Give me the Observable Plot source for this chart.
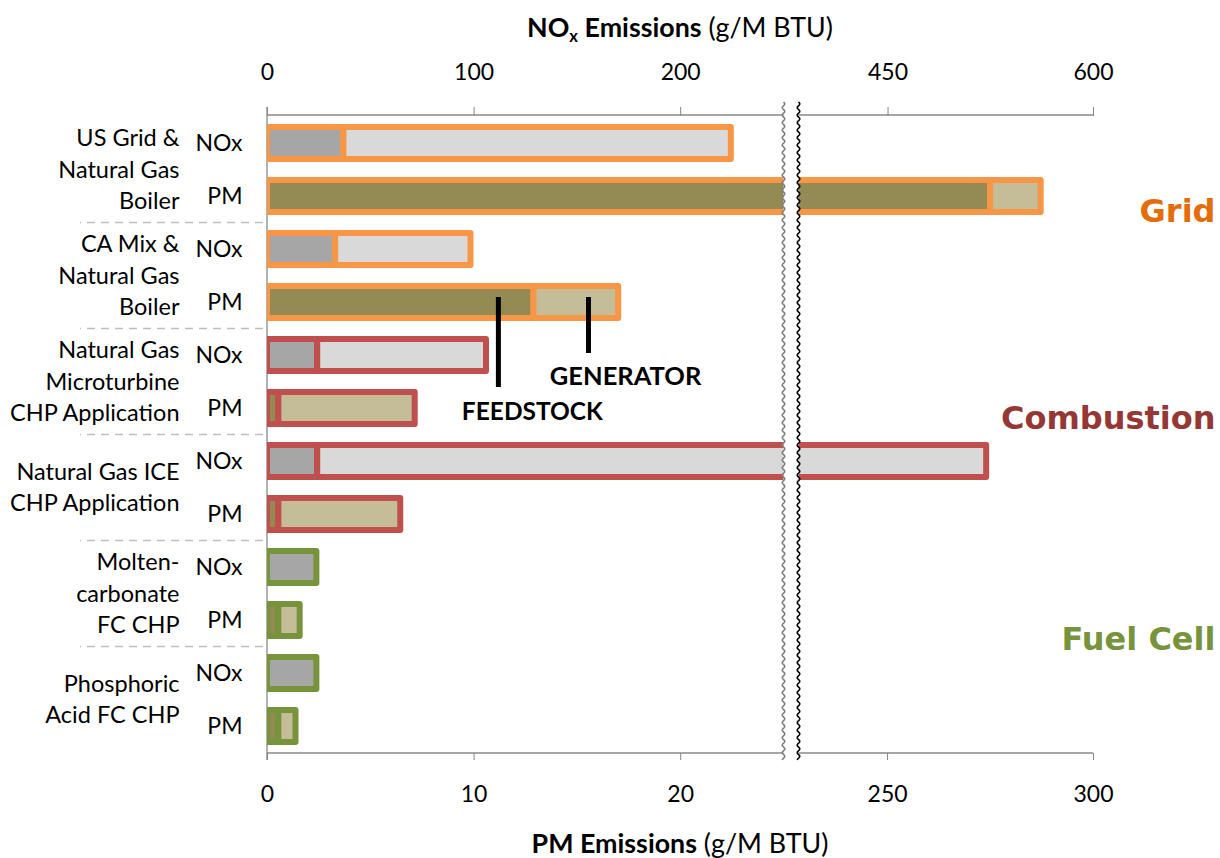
<!DOCTYPE html>
<html>
<head>
<meta charset="utf-8">
<script src="https://cdn.jsdelivr.net/npm/d3@7"></script>
<script src="https://cdn.jsdelivr.net/npm/@observablehq/plot@0.6"></script>
<style>
  body { margin: 0; background: #fff; }
  #wrap { position: relative; width: 1220px; height: 858px; font-family: Lato, sans-serif; color: #000; }
  #wrap svg { position: absolute; left: 0; top: 0; }
  .axtitle { position: absolute; left: 380px; width: 600px; text-align: center; font-size: 26.8px; line-height: 30px; }
  .axtitle sub { font-size: 0.62em; vertical-align: -0.3em; line-height: 0; }
  g[aria-label="x-axis tick"] { stroke: #868686; }
  g[aria-label="x-axis"] .tick line { stroke: #868686; }
</style>
</head>
<body>
<div id="wrap">
  <div class="axtitle" style="top:12px"><b>NO<sub>x</sub> Emissions</b> (g/M BTU)</div>
  <div class="axtitle" style="top:828px"><b>PM Emissions</b> (g/M BTU)</div>
</div>
<script>
// ---------------- data ----------------
const categories = [
  "US Grid & Natural Gas Boiler",
  "CA Mix & Natural Gas Boiler",
  "Natural Gas Microturbine CHP Application",
  "Natural Gas ICE CHP Application",
  "Molten-carbonate FC CHP",
  "Phosphoric Acid FC CHP"
];
const categoryLines = [
  "US Grid &\nNatural Gas\nBoiler",
  "CA Mix &\nNatural Gas\nBoiler",
  "Natural Gas\nMicroturbine\nCHP Application",
  "Natural Gas ICE\nCHP Application",
  "Molten-\ncarbonate\nFC CHP",
  "Phosphoric\nAcid FC CHP"
];
const groups = ["Grid", "Grid", "Combustion", "Combustion", "Fuel Cell", "Fuel Cell"];
const metrics = ["NOx", "PM"];
const parts = ["FEEDSTOCK", "GENERATOR"];

// g/M BTU
const noxFeedstock = [37, 33, 24.3, 24.3, 23.9, 23.9];
const noxGenerator = [187.5, 65.5, 81.7, 497.7, 0, 0];
const pmFeedstock  = [275, 12.9, 0.55, 0.55, 0.55, 0.55];
const pmGenerator  = [12.3, 4.1, 6.6, 5.9, 1.03, 0.83];

// axis ticks and axis breaks (broken axis)
const noxTicks = [0, 100, 200, 450, 600];
const pmTicks  = [0, 10, 20, 250, 300];
const noxBreak = [250, 385];
const pmBreak  = [25, 228.5];

// annotation anchors in PM units
const annotations = [
  {label: "FEEDSTOCK", pointAt: 11.2, textAt: 12.82},
  {label: "GENERATOR", pointAt: 15.56, textAt: 17.33}
];

// ---------------- styles / layout ----------------
const groupStroke = {"Grid": "#f79646", "Combustion": "#c0504d", "Fuel Cell": "#77933c"};
const groupText   = {"Grid": "#e46c0a", "Combustion": "#953735", "Fuel Cell": "#77933c"};
const noxFill = ["#a6a6a6", "#d9d9d9"];
const pmFill  = ["#948a54", "#c4bd97"];
const groupLabelDy = [15, 10, 19];

const W = 1220, H = 858, MT = 115, MB = 105, ML = 267, MR = 127;
const BX = [783.5, 798.5];
const xRange = [ML, BX[0], BX[1], W - MR];
const FONT = "Lato, sans-serif";

// ---------------- derived tables ----------------
const rowKey = (c, m) => c + "|" + m;
const rows = categories.flatMap(c => metrics.map(m => rowKey(c, m)));
const noxData = categories.map((c, i) => ({row: rowKey(c, "NOx"), group: groups[i], feed: noxFeedstock[i], total: noxFeedstock[i] + noxGenerator[i]}));
const pmData  = categories.map((c, i) => ({row: rowKey(c, "PM"),  group: groups[i], feed: pmFeedstock[i],  total: pmFeedstock[i] + pmGenerator[i]}));
const rowLabels = categories.flatMap(c => metrics.map(m => ({row: rowKey(c, m), text: m})));
const catLabels = categories.map((c, i) => ({row: rowKey(c, "NOx"), text: categoryLines[i]}));
const groupNames = [...new Set(groups)];
const groupLabels = groupNames.map(g => ({text: g, row: rowKey(categories[groups.indexOf(g)], "PM"), color: groupText[g]}));

// ---------------- decorations ----------------
function deco1(index, scales, values, dims) {
  const {y} = scales;
  const bw = y.bandwidth();
  const g = d3.create("svg:g");
  const axisColor = "#898989";
  const top = dims.marginTop, bottom = dims.height - dims.marginBottom;
  const left = dims.marginLeft, right = dims.width - dims.marginRight;
  g.append("line").attr("x1", left).attr("x2", left).attr("y1", top - 8).attr("y2", bottom + 7)
    .attr("stroke", axisColor).attr("stroke-width", 1.3);
  g.append("line").attr("x1", left).attr("x2", right).attr("y1", top).attr("y2", top)
    .attr("stroke", axisColor).attr("stroke-width", 1.3);
  g.append("line").attr("x1", left).attr("x2", right).attr("y1", bottom).attr("y2", bottom)
    .attr("stroke", axisColor).attr("stroke-width", 1.3);
  for (let i = 1; i < categories.length; i++) {
    const yb = (y(rowKey(categories[i - 1], "PM")) + bw + y(rowKey(categories[i], "NOx"))) / 2;
    g.append("line").attr("x1", left - 4).attr("x2", 80).attr("y1", yb).attr("y2", yb)
      .attr("stroke", "#bfbfbf").attr("stroke-width", 1.6).attr("stroke-dasharray", "8,6");
  }
  return g.node();
}

function wavy(x0, y0, y1) {
  const p = d3.path();
  p.moveTo(x0, y0);
  for (let yy = y0; yy <= y1; yy += 1) p.lineTo(x0 + 1.3 * Math.sin(2 * Math.PI * (yy - y0) / 7.5), yy);
  return p.toString();
}

function deco2(index, scales, values, dims) {
  const {x, y} = scales;
  const bw = y.bandwidth();
  const g = d3.create("svg:g");
  const top = dims.marginTop - 13, bottom = dims.height - dims.marginBottom + 7;
  const xl = x(pmBreak[0]), xr = x(pmBreak[1]);
  g.append("rect").attr("x", xl).attr("y", top).attr("width", xr - xl).attr("height", bottom - top).attr("fill", "#fff");
  g.append("path").attr("d", wavy(xl, top, bottom)).attr("fill", "none").attr("stroke", "#7f7f7f").attr("stroke-width", 1.6);
  g.append("path").attr("d", wavy(xr, top, bottom)).attr("fill", "none").attr("stroke", "#000").attr("stroke-width", 1.6);
  // annotation leader lines
  const yTop = y(rowKey(categories[1], "PM")) + bw / 2 - 5;
  const ends = [y(rowKey(categories[2], "PM")) + bw / 2 - 21, y(rowKey(categories[2], "NOx")) + bw / 2 - 2];
  annotations.forEach((a, i) => {
    g.append("line").attr("x1", x(a.pointAt)).attr("x2", x(a.pointAt)).attr("y1", yTop).attr("y2", ends[i])
      .attr("stroke", "#000").attr("stroke-width", 5);
  });
  return g.node();
}

// ---------------- plots ----------------
const barStyle = d => groupStroke[d.group];

const p1 = Plot.plot({
  width: W, height: H, marginTop: MT, marginBottom: MB, marginLeft: ML, marginRight: MR,
  style: {background: "transparent", fontFamily: FONT, fontSize: "23px", color: "#000", overflow: "visible"},
  x: {type: "linear", domain: [0, noxBreak[0], noxBreak[1], noxTicks[noxTicks.length - 1]], range: xRange, axis: "top",
      ticks: noxTicks, tickSize: 9, tickPadding: 27, label: null},
  y: {domain: rows, paddingInner: 0.4, paddingOuter: 0.2, axis: null},
  color: {type: "identity"},
  marks: [
    deco1,
    Plot.barX(noxData, {y: "row", x1: () => 0, x2: "feed", fill: noxFill[0], stroke: barStyle, strokeWidth: 6, strokeLinejoin: "round", clip: true}),
    Plot.barX(noxData.filter(d => d.total > d.feed), {y: "row", x1: "feed", x2: "total", fill: noxFill[1], stroke: barStyle, strokeWidth: 6, strokeLinejoin: "round", clip: true}),
    Plot.text(rowLabels, {y: "row", text: "text", frameAnchor: "left", dx: -25, textAnchor: "end", fontSize: 23, fill: "#000"}),
    Plot.text(catLabels, {y: "row", text: "text", frameAnchor: "left", dx: -88, dy: 24, textAnchor: "end", fontSize: 23.5, lineHeight: 1.33, fill: "#000"}),
    ...groupLabels.map((d, i) => Plot.text([d], {y: "row", text: "text", fill: "color", frameAnchor: "right", dx: W - 5 - (W - MR), dy: groupLabelDy[i],
      textAnchor: "end", fontSize: 32, fontWeight: "bold", fontFamily: "DejaVu Sans"}))
  ]
});

const p2 = Plot.plot({
  width: W, height: H, marginTop: MT, marginBottom: MB, marginLeft: ML, marginRight: MR,
  style: {background: "transparent", fontFamily: FONT, fontSize: "23px", color: "#000", overflow: "visible"},
  x: {type: "linear", domain: [0, pmBreak[0], pmBreak[1], pmTicks[pmTicks.length - 1]], range: xRange, axis: "bottom",
      ticks: pmTicks, tickSize: 7, tickPadding: 25, label: null},
  y: {domain: rows, paddingInner: 0.4, paddingOuter: 0.2, axis: null},
  color: {type: "identity"},
  marks: [
    Plot.barX(pmData, {y: "row", x1: () => 0, x2: "feed", fill: pmFill[0], stroke: barStyle, strokeWidth: 6, strokeLinejoin: "round", clip: true}),
    Plot.barX(pmData.filter(d => d.total > d.feed), {y: "row", x1: "feed", x2: "total", fill: pmFill[1], stroke: barStyle, strokeWidth: 6, strokeLinejoin: "round", clip: true}),
    deco2,
    Plot.text([annotations[0]], {x: "textAt", y: () => rowKey(categories[2], "PM"), text: "label", dy: 4, fontSize: 24.5, fontWeight: "bold", fill: "#000"}),
    Plot.text([annotations[1]], {x: "textAt", y: () => rowKey(categories[2], "NOx"), text: "label", dy: 21, fontSize: 25.5, fontWeight: "bold", fill: "#000"})
  ]
});

const wrap = document.getElementById("wrap");
wrap.insertBefore(p1, wrap.firstChild);
wrap.insertBefore(p2, p1.nextSibling);
</script>
</body>
</html>
